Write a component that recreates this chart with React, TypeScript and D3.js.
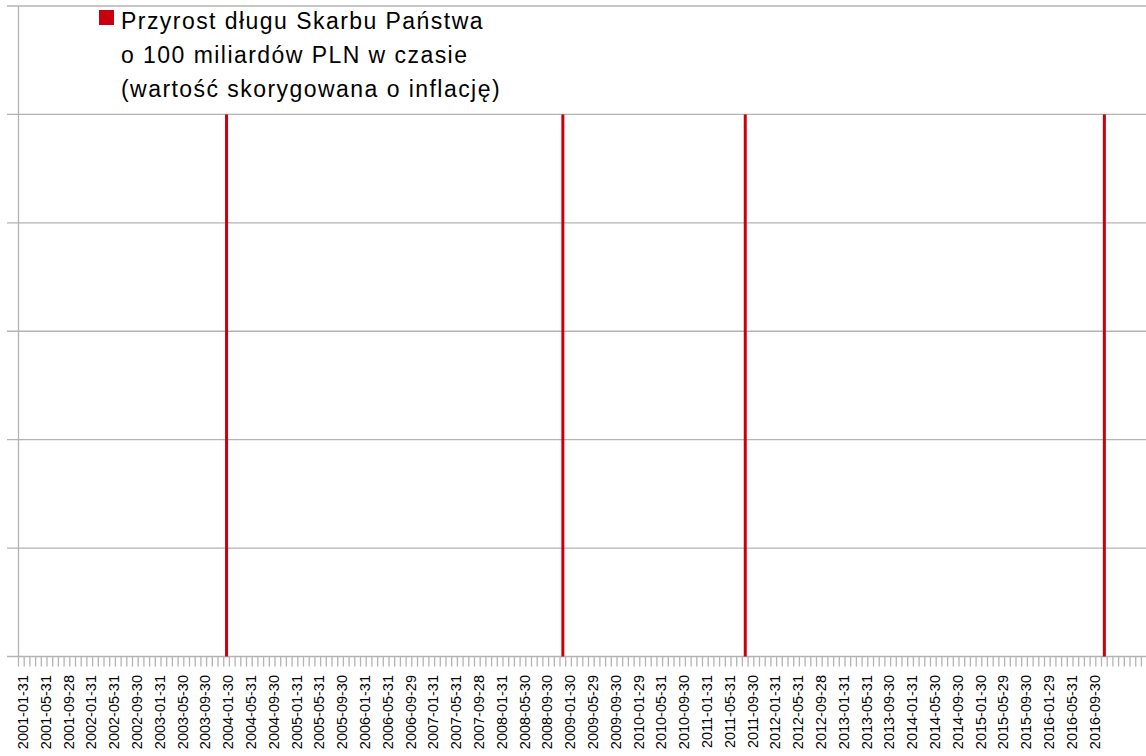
import React, { useEffect, useRef } from "react";
import * as d3 from "d3";

// months on the category axis: 2001-01 .. 2017-06
const firstYear = 2001;
const monthCount = 198;

// visible axis labels (every 4th month)
const tickLabels = [
  "2001-01-31", "2001-05-31", "2001-09-28", "2002-01-31", "2002-05-31", "2002-09-30",
  "2003-01-31", "2003-05-30", "2003-09-30", "2004-01-30", "2004-05-31", "2004-09-30",
  "2005-01-31", "2005-05-31", "2005-09-30", "2006-01-31", "2006-05-31", "2006-09-29",
  "2007-01-31", "2007-05-31", "2007-09-28", "2008-01-31", "2008-05-30", "2008-09-30",
  "2009-01-30", "2009-05-29", "2009-09-30", "2010-01-29", "2010-05-31", "2010-09-30",
  "2011-01-31", "2011-05-31", "2011-09-30", "2012-01-31", "2012-05-31", "2012-09-28",
  "2013-01-31", "2013-05-31", "2013-09-30", "2014-01-31", "2014-05-30", "2014-09-30",
  "2015-01-30", "2015-05-29", "2015-09-30", "2016-01-29", "2016-05-31", "2016-09-30",
];

// months in which the debt grew by another 100 bn PLN
const barDates = ["2004-01-30", "2008-12-31", "2011-08-31", "2016-11-30"];
const barValues = [1, 1, 1, 1];

const yTicks = [0, 0.2, 0.4, 0.6, 0.8, 1.0, 1.2];

const legendLines = [
  "Przyrost długu Skarbu Państwa",
  "o 100 miliardów PLN w czasie",
  "(wartość skorygowana o inflację)",
];

const monthIndex = (s: string) => {
  const [y, m] = s.split("-").map(Number);
  return (y - firstYear) * 12 + (m - 1);
};

export default function App() {
  const svgRef = useRef<SVGSVGElement | null>(null);

  useEffect(() => {
    if (!svgRef.current) return;
    const W = 1146;
    const H = 756;
    const left = 18.5;
    const right = left + monthCount * 5.7;
    const top = 6;
    const bottom = 656.5;
    const font = "'Liberation Sans', Arial, sans-serif";

    const svg = d3.select(svgRef.current);
    svg.selectAll("*").remove();
    svg.attr("width", W).attr("height", H);

    const x = d3.scaleBand<number>()
      .domain(d3.range(monthCount))
      .range([left, right])
      .padding(0);
    const y = d3.scaleLinear().domain([0, 1.2]).range([bottom, top]);

    // horizontal gridlines
    svg.append("g")
      .selectAll("line")
      .data(yTicks)
      .join("line")
      .attr("x1", 7)
      .attr("x2", W)
      .attr("y1", (d) => y(d))
      .attr("y2", (d) => y(d))
      .attr("stroke", "#b3b3b3")
      .attr("stroke-width", 1.3);

    // left axis line
    svg.append("line")
      .attr("x1", left)
      .attr("x2", left)
      .attr("y1", top)
      .attr("y2", bottom)
      .attr("stroke", "#b3b3b3")
      .attr("stroke-width", 1.3);

    // month ticks at band boundaries
    const bounds = d3.range(monthCount + 1).map((i) => (i < monthCount ? x(i)! : right));
    svg.append("g")
      .selectAll("line")
      .data(bounds)
      .join("line")
      .attr("x1", (d) => d)
      .attr("x2", (d) => d)
      .attr("y1", bottom)
      .attr("y2", bottom + 10)
      .attr("stroke", "#b3b3b3")
      .attr("stroke-width", 1.3);

    // bars
    svg.append("g")
      .selectAll("rect")
      .data(barDates.map((d, i) => ({ idx: monthIndex(d), v: barValues[i] })))
      .join("rect")
      .attr("x", (d) => x(d.idx)! + x.bandwidth() / 2 - 1.5)
      .attr("width", 3)
      .attr("y", (d) => y(d.v))
      .attr("height", (d) => bottom - y(d.v))
      .attr("fill", "#c9000e");

    // x labels
    svg.append("g")
      .selectAll("text")
      .data(tickLabels)
      .join("text")
      .attr("transform", (d) => `translate(${x(monthIndex(d))! + x.bandwidth() / 2 + 1.5},675) rotate(-90)`)
      .attr("text-anchor", "end")
      .attr("dy", "0.35em")
      .attr("font-family", font)
      .attr("font-size", 14.5)
      .attr("fill", "#000")
      .text((d) => d);

    // legend
    svg.append("rect")
      .attr("x", 99)
      .attr("y", 10)
      .attr("width", 15)
      .attr("height", 15)
      .attr("fill", "#c9000e");

    svg.append("g")
      .selectAll("text")
      .data(legendLines)
      .join("text")
      .attr("x", 121)
      .attr("y", (_, i) => 29 + i * 34)
      .attr("font-family", font)
      .attr("font-size", 23)
      .attr("letter-spacing", 1.45)
      .attr("fill", "#000")
      .text((d) => d);
  }, []);

  return (
    <div style={{ position: "absolute", left: 0, top: 0, background: "#fff" }}>
      <svg ref={svgRef} style={{ display: "block" }} />
    </div>
  );
}
